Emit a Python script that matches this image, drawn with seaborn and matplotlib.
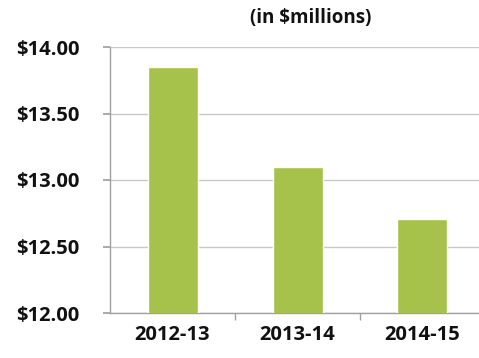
import matplotlib
matplotlib.use("Agg")
import matplotlib.pyplot as plt
import seaborn as sns
import pandas as pd

categories = ["2012-13", "2013-14", "2014-15"]
values = [13.85, 13.10, 12.71]
yticks = [12.0, 12.5, 13.0, 13.5, 14.0]
title = "(in $millions)"

sns.set_theme(style="white")
plt.rcParams['font.family'] = ['Open Sans', 'DejaVu Sans']

df = pd.DataFrame({"year": categories, "value": values})

fig = plt.figure(figsize=(4.79, 3.58), dpi=100)
ax = fig.add_axes([110/479, 45/358, 375/479, 266/358])

sns.barplot(data=df, x="year", y="value", color="#a6c24a", width=0.4,
            saturation=1, ax=ax, zorder=3)

ax.set_ylim(12, 14)
ax.set_xlim(-0.5, 2.5)
ax.set_yticks(yticks)
ax.set_yticklabels([f"${v:.2f}" for v in yticks], fontsize=14.5, fontweight="bold", color="#111111")
ax.set_xticks(range(len(categories)))
ax.set_xticklabels(categories, fontsize=14.5, fontweight="bold", color="#111111")
ax.set_xlabel("")
ax.set_ylabel("")

ax.grid(axis="y", color="#c8c8c8", linewidth=1, zorder=0)
for s in ["top", "right"]:
    ax.spines[s].set_visible(False)
for s in ["left", "bottom"]:
    ax.spines[s].set_color("#a0a0a0")
    ax.spines[s].set_linewidth(1)

ax.tick_params(axis="y", which="major", left=True, length=5, color="#a0a0a0", pad=17)
ax.tick_params(axis="x", which="major", bottom=False, pad=3)
ax.set_xticks([0.5, 1.5, 2.5], minor=True)
ax.tick_params(axis="x", which="minor", bottom=True, length=5, color="#a0a0a0")

fig.text(311/479, 1 - 18/358, title, ha="center", va="center",
         fontsize=13.5, fontweight="bold", color="#111111")

fig.savefig("out.png", dpi=100)
